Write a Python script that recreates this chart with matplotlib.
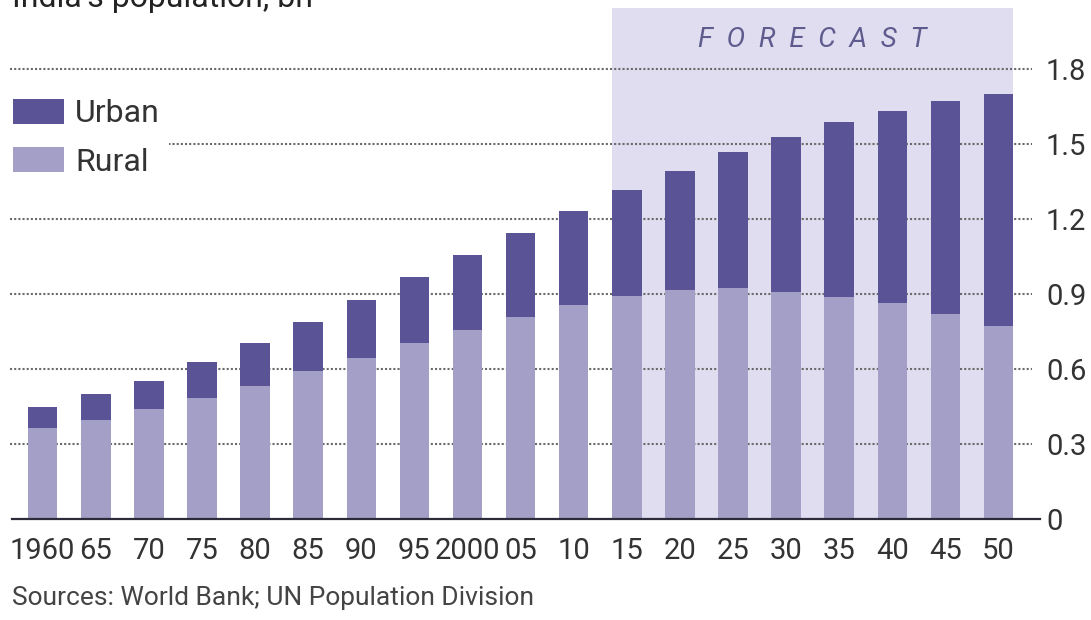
import matplotlib.pyplot as plt
import numpy as np

# India's population, bn
years = ["1960", "65", "70", "75", "80", "85", "90", "95", "2000", "05",
         "10", "15", "20", "25", "30", "35", "40", "45", "50"]
rural = [0.364, 0.396, 0.440, 0.486, 0.532, 0.592, 0.644, 0.704, 0.756, 0.810,
         0.856, 0.892, 0.916, 0.924, 0.908, 0.888, 0.864, 0.820, 0.772]
urban = [0.084, 0.104, 0.112, 0.142, 0.172, 0.196, 0.232, 0.264, 0.302, 0.334,
         0.376, 0.424, 0.476, 0.544, 0.620, 0.700, 0.768, 0.852, 0.928]
yticks = [0, 0.3, 0.6, 0.9, 1.2, 1.5, 1.8]
ytick_labels = ["0", "0.3", "0.6", "0.9", "1.2", "1.5", "1.8"]
forecast_start = "15"

urban_col = "#5a5396"
rural_col = "#a49fc7"
shade_col = "#dfddef"
text_col = "#333333"

plt.rcParams['font.family'] = ['Roboto', 'DejaVu Sans']

W, H = 1091, 620
fig = plt.figure(figsize=(W / 100, H / 100), dpi=100)
ax = fig.add_axes([10 / W, 1 - 519 / H, 1022 / W, 511 / H])

x = np.arange(len(years))
w = 0.556
ax.set_xlim(-0.616, 18.63)
ax.set_ylim(0, 2.044)

# forecast shading
i0 = years.index(forecast_start)
ax.axvspan(i0 - w / 2, x[-1] + w / 2, color=shade_col, zorder=0, lw=0)
ax.text((i0 + x[-1]) / 2, 1.916, "F  O  R  E  C  A  S  T", ha='center',
        va='center', fontsize=20, style='italic', color="#5f5b8e")

# dotted gridlines
for t in yticks[1:]:
    ax.axhline(t, color="#6a6a6a", lw=1.5, linestyle=(0, (1, 1)), zorder=1)

rb = ax.bar(x, rural, w, color=rural_col, label="Rural", zorder=3)
ub = ax.bar(x, urban, w, bottom=rural, color=urban_col, label="Urban", zorder=3)

ax.axhline(0, xmin=0.002, xmax=1.0078, color="#2b2b3a", lw=1.6, zorder=4,
           clip_on=False)

for s in ax.spines.values():
    s.set_visible(False)

ax.set_xticks(x)
ax.set_xticklabels(years)
ax.tick_params(axis='x', length=0, pad=13, labelsize=21, labelcolor=text_col)
ax.yaxis.tick_right()
ax.set_yticks(yticks)
ax.set_yticklabels(ytick_labels)
ax.tick_params(axis='y', length=0, pad=10, labelsize=21, labelcolor=text_col)

leg = ax.legend([ub, rb], ["Urban", "Rural"], loc='upper left',
                bbox_to_anchor=(3.4 / W, 1 - 89 / H), bbox_transform=fig.transFigure,
                fontsize=23, handlelength=1.6, handleheight=0.83,
                handletextpad=0.34, labelspacing=0.6, borderpad=0.3,
                borderaxespad=0, frameon=True, fancybox=False, framealpha=1,
                facecolor='white', edgecolor='none')
for t in leg.get_texts():
    t.set_color(text_col)
leg.set_zorder(5)

fig.text(12 / W, 1 - 7 / H, "India's population, bn", fontsize=23,
         color="#222222", va='baseline', ha='left')
fig.text(12 / W, 1 - 605 / H, "Sources: World Bank; UN Population Division",
         fontsize=19, color="#444444", va='baseline', ha='left')

fig.savefig("out.png", dpi=100, facecolor='white')
